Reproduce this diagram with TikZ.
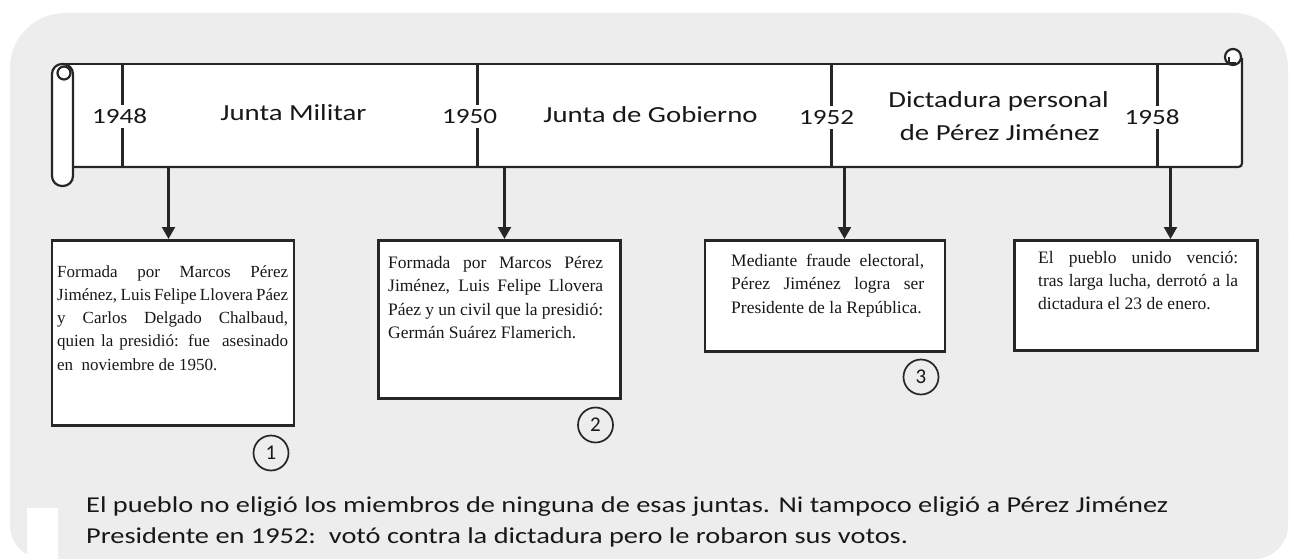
\documentclass[tikz,border=0pt]{standalone}
\usepackage{fontspec}
\setmainfont{Liberation Serif}
\newfontfamily\calib[FakeStretch=1.25]{Carlito}
\newfontfamily\calibn{Carlito}
\usetikzlibrary{arrows.meta}
\definecolor{bggray}{RGB}{237,237,237}
\definecolor{ink}{RGB}{38,38,38}
\definecolor{txt}{RGB}{24,24,24}
\newcommand\nohyph{\hyphenpenalty=10000\relax\exhyphenpenalty=10000\relax}
\begin{document}
\begin{tikzpicture}[x=1pt,y=-1pt,
  sline/.style={draw=ink, line width=2.2pt},
  yearlbl/.style={fill=white, inner xsep=1pt, inner ysep=4pt, font=\calib\fontsize{21.7}{26}\selectfont, text=txt, anchor=base},
  perlbl/.style={inner sep=0pt, font=\calib\fontsize{23}{31}\selectfont, text=txt, anchor=base},
  infobox/.style={draw=ink, line width=2.5pt, fill=white, rectangle, inner sep=0pt, anchor=north west},
  infotext/.style={inner sep=0pt, anchor=north west, align=justify, font=\fontsize{17.5}{23.3}\selectfont, text=txt},
  numcirc/.style={circle, draw=ink, line width=1.7pt, minimum size=35pt, inner sep=0pt, font=\calibn\fontsize{21}{21}\selectfont, text=txt},
  conn/.style={draw=ink, line width=2.2pt, -{Triangle[length=12pt,width=13pt]}},
  notetext/.style={inner sep=0pt, anchor=base west, font=\calib\fontsize{22.7}{31}\selectfont, text=txt},
]
\useasboundingbox (0,0) rectangle (1289,559);
% background panel
\fill[white] (0,0) rectangle (1289,559);
\fill[bggray, rounded corners=55pt] (10,13) rectangle (1288,300);
\fill[bggray, rounded corners=34pt] (10,200) rectangle (1288,559);
\fill[white] (27,508) rectangle (58,559);
% scroll body
\fill[white] (68,64) rectangle (1242,167);
\coordinate (d1t) at (122.5,64); \coordinate (d1b) at (122.5,167);
\coordinate (d2t) at (477.5,64); \coordinate (d2b) at (477.5,167);
\coordinate (d3t) at (831.5,64); \coordinate (d3b) at (831.5,167);
\coordinate (d4t) at (1157.5,64); \coordinate (d4b) at (1157.5,167);
\draw[sline] (d1t) -- (d1b);
\draw[sline] (d2t) -- (d2b);
\draw[sline] (d3t) -- (d3b);
\draw[sline] (d4t) -- (d4b);
\draw[sline] (62,64) -- (1233,64);
\draw[sline] (1242,58) -- (1242,159) .. controls (1242,167) .. (1234,167) -- (73,167);
\draw[sline, fill=white] (1233,57) circle[radius=8pt];
\draw[draw=ink, line width=1.2pt] (1229,57) -- (1229,63) -- (1236,63);
\draw[sline, fill=white, rounded corners=10pt] (52,64) rectangle (73,186);
\draw[sline] (64,73) circle[radius=6.5pt];
% labels on the scroll
\node[yearlbl] (y48) at (119.7,123.5) {1948};
\node[yearlbl] (y50) at (469.5,123.5) {1950};
\node[yearlbl] (y52) at (826.5,124.5) {1952};
\node[yearlbl] (y58) at (1152,124.5) {1958};
\node[perlbl] (p1) at (293.5,120.5) {Junta Militar};
\node[perlbl] (p2) at (650.5,122) {Junta de Gobierno};
\node[perlbl] (p3a) at (998.6,108) {Dictadura personal};
\node[perlbl] (p3b) at (999.6,140) {de Pérez Jiménez};
% boxes
\node[infobox, minimum width=242pt, minimum height=185pt] (b1) at (50.5,239) {};
\node[infobox, minimum width=242pt, minimum height=158pt] (b2) at (377,239) {};
\node[infobox, minimum width=240pt, minimum height=111pt] (b3) at (703.5,239) {};
\node[infobox, minimum width=243pt, minimum height=110pt] (b4) at (1013,239) {};
\node[infotext, text width=231pt, font=\fontsize{17}{23.3}\selectfont] (t1) at (57,260.5) {\nohyph\strut Formada por Marcos Pérez\linebreak Jiménez, Luis Felipe Llovera Páez\linebreak y Carlos Delgado Chalbaud,\linebreak quien la presidió: fue\ \ asesinado\linebreak en\ \ noviembre de 1950.};
\node[infotext, text width=215pt] (t2) at (388,252) {\nohyph\strut Formada por Marcos Pérez\linebreak Jiménez, Luis Felipe Llovera\linebreak Páez y un civil que la presidió:\linebreak Germán Suárez Flamerich.};
\node[infotext, text width=193pt] (t3) at (731,250) {\nohyph\strut Mediante fraude electoral,\linebreak Pérez Jiménez logra ser\linebreak Presidente de la República.};
\node[infotext, text width=200pt] (t4) at (1038,246.5) {\nohyph\strut El pueblo unido venció:\linebreak tras larga lucha, derrotó a la\linebreak dictadura el 23 de enero.};
% connectors
\coordinate (a1) at (168.5,167);
\coordinate (a2) at (504.5,167);
\coordinate (a3) at (844.5,167);
\coordinate (a4) at (1170.5,167);
\draw[conn] (a1) -- (a1 |- b1.north);
\draw[conn] (a2) -- (a2 |- b2.north);
\draw[conn] (a3) -- (a3 |- b3.north);
\draw[conn] (a4) -- (a4 |- b4.north);
% numbered circles
\node[numcirc] (c1) at (271,453) {1};
\node[numcirc] (c2) at (595.5,425) {2};
\node[numcirc] (c3) at (921,377) {3};
% bottom note
\node[notetext] (n1) at (86,512) {El pueblo no eligió los miembros de ninguna de esas juntas. Ni tampoco eligió a Pérez Jiménez};
\node[notetext] (n2) at (86,543) {Presidente en 1952:\ \ votó contra la dictadura pero le robaron sus votos.};
\end{tikzpicture}
\end{document}
